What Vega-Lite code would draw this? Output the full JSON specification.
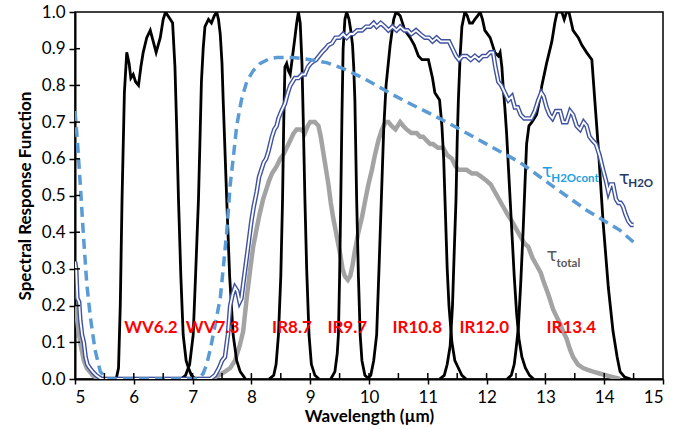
{
  "$schema": "https://vega.github.io/schema/vega-lite/v6.json",
  "width": 588,
  "height": 367,
  "autosize": {"type": "none"},
  "padding": {"left": 75, "top": 12, "right": 23, "bottom": 50},
  "background": "white",
  "config": {
    "view": {"stroke": "#000", "strokeWidth": 1.5},
    "axis": {"grid": false, "domainColor": "#000", "domainWidth": 2, "tickColor": "#000", "tickWidth": 1.5, "labelFont": "Lato", "labelFontSize": 17, "labelColor": "#000", "titleFont": "Lato", "titleFontSize": 17, "titleFontWeight": "bold", "titleColor": "#000"}
  },
  "datasets": {
    "srf": [
      {"ch":"WV6.2","x":5.5,"y":0},{"ch":"WV6.2","x":5.7,"y":0},{"ch":"WV6.2","x":5.74,"y":0.03},{"ch":"WV6.2","x":5.77,"y":0.2},{"ch":"WV6.2","x":5.8,"y":0.49},{"ch":"WV6.2","x":5.84,"y":0.78},{"ch":"WV6.2","x":5.88,"y":0.89},{"ch":"WV6.2","x":5.92,"y":0.86},{"ch":"WV6.2","x":5.95,"y":0.82},{"ch":"WV6.2","x":5.99,"y":0.83},{"ch":"WV6.2","x":6.03,"y":0.81},{"ch":"WV6.2","x":6.08,"y":0.8},{"ch":"WV6.2","x":6.12,"y":0.85},{"ch":"WV6.2","x":6.16,"y":0.89},{"ch":"WV6.2","x":6.22,"y":0.93},{"ch":"WV6.2","x":6.28,"y":0.95},{"ch":"WV6.2","x":6.33,"y":0.92},{"ch":"WV6.2","x":6.38,"y":0.89},{"ch":"WV6.2","x":6.45,"y":0.93},{"ch":"WV6.2","x":6.5,"y":0.98},{"ch":"WV6.2","x":6.54,"y":1.0},{"ch":"WV6.2","x":6.58,"y":0.99},{"ch":"WV6.2","x":6.62,"y":0.98},{"ch":"WV6.2","x":6.66,"y":0.97},{"ch":"WV6.2","x":6.7,"y":0.85},{"ch":"WV6.2","x":6.73,"y":0.68},{"ch":"WV6.2","x":6.76,"y":0.49},{"ch":"WV6.2","x":6.8,"y":0.28},{"ch":"WV6.2","x":6.84,"y":0.12},{"ch":"WV6.2","x":6.89,"y":0.05},{"ch":"WV6.2","x":6.93,"y":0.03},{"ch":"WV6.2","x":6.98,"y":0.01},{"ch":"WV6.2","x":7.05,"y":0},
      {"ch":"WV7.3","x":6.8,"y":0},{"ch":"WV7.3","x":6.88,"y":0.01},{"ch":"WV7.3","x":6.95,"y":0.04},{"ch":"WV7.3","x":7.01,"y":0.12},{"ch":"WV7.3","x":7.05,"y":0.28},{"ch":"WV7.3","x":7.1,"y":0.49},{"ch":"WV7.3","x":7.13,"y":0.68},{"ch":"WV7.3","x":7.15,"y":0.81},{"ch":"WV7.3","x":7.18,"y":0.9},{"ch":"WV7.3","x":7.21,"y":0.96},{"ch":"WV7.3","x":7.27,"y":0.98},{"ch":"WV7.3","x":7.32,"y":0.97},{"ch":"WV7.3","x":7.37,"y":0.99},{"ch":"WV7.3","x":7.41,"y":1.0},{"ch":"WV7.3","x":7.44,"y":0.98},{"ch":"WV7.3","x":7.47,"y":0.94},{"ch":"WV7.3","x":7.5,"y":0.86},{"ch":"WV7.3","x":7.52,"y":0.76},{"ch":"WV7.3","x":7.58,"y":0.49},{"ch":"WV7.3","x":7.63,"y":0.28},{"ch":"WV7.3","x":7.69,"y":0.12},{"ch":"WV7.3","x":7.75,"y":0.05},{"ch":"WV7.3","x":7.81,"y":0.02},{"ch":"WV7.3","x":7.9,"y":0},
      {"ch":"IR8.7","x":8.3,"y":0},{"ch":"IR8.7","x":8.38,"y":0.01},{"ch":"IR8.7","x":8.42,"y":0.04},{"ch":"IR8.7","x":8.46,"y":0.12},{"ch":"IR8.7","x":8.5,"y":0.28},{"ch":"IR8.7","x":8.53,"y":0.49},{"ch":"IR8.7","x":8.55,"y":0.7},{"ch":"IR8.7","x":8.57,"y":0.85},{"ch":"IR8.7","x":8.6,"y":0.86},{"ch":"IR8.7","x":8.63,"y":0.84},{"ch":"IR8.7","x":8.66,"y":0.83},{"ch":"IR8.7","x":8.7,"y":0.88},{"ch":"IR8.7","x":8.74,"y":0.93},{"ch":"IR8.7","x":8.77,"y":0.97},{"ch":"IR8.7","x":8.8,"y":1.0},{"ch":"IR8.7","x":8.83,"y":0.97},{"ch":"IR8.7","x":8.86,"y":0.86},{"ch":"IR8.7","x":8.88,"y":0.72},{"ch":"IR8.7","x":8.91,"y":0.49},{"ch":"IR8.7","x":8.94,"y":0.3},{"ch":"IR8.7","x":8.98,"y":0.12},{"ch":"IR8.7","x":9.02,"y":0.04},{"ch":"IR8.7","x":9.08,"y":0.01},{"ch":"IR8.7","x":9.15,"y":0},
      {"ch":"IR9.7","x":9.35,"y":0},{"ch":"IR9.7","x":9.42,"y":0.02},{"ch":"IR9.7","x":9.46,"y":0.07},{"ch":"IR9.7","x":9.48,"y":0.12},{"ch":"IR9.7","x":9.5,"y":0.28},{"ch":"IR9.7","x":9.52,"y":0.49},{"ch":"IR9.7","x":9.54,"y":0.72},{"ch":"IR9.7","x":9.56,"y":0.9},{"ch":"IR9.7","x":9.59,"y":0.98},{"ch":"IR9.7","x":9.62,"y":1.0},{"ch":"IR9.7","x":9.66,"y":0.98},{"ch":"IR9.7","x":9.69,"y":0.95},{"ch":"IR9.7","x":9.72,"y":0.91},{"ch":"IR9.7","x":9.74,"y":0.85},{"ch":"IR9.7","x":9.76,"y":0.76},{"ch":"IR9.7","x":9.79,"y":0.49},{"ch":"IR9.7","x":9.82,"y":0.28},{"ch":"IR9.7","x":9.85,"y":0.12},{"ch":"IR9.7","x":9.88,"y":0.05},{"ch":"IR9.7","x":9.93,"y":0.01},{"ch":"IR9.7","x":10.0,"y":0},
      {"ch":"IR10.8","x":9.97,"y":0},{"ch":"IR10.8","x":10.03,"y":0.01},{"ch":"IR10.8","x":10.08,"y":0.05},{"ch":"IR10.8","x":10.13,"y":0.12},{"ch":"IR10.8","x":10.17,"y":0.3},{"ch":"IR10.8","x":10.21,"y":0.49},{"ch":"IR10.8","x":10.25,"y":0.68},{"ch":"IR10.8","x":10.29,"y":0.8},{"ch":"IR10.8","x":10.36,"y":0.91},{"ch":"IR10.8","x":10.42,"y":0.98},{"ch":"IR10.8","x":10.46,"y":1.0},{"ch":"IR10.8","x":10.53,"y":0.99},{"ch":"IR10.8","x":10.61,"y":0.95},{"ch":"IR10.8","x":10.7,"y":0.93},{"ch":"IR10.8","x":10.77,"y":0.91},{"ch":"IR10.8","x":10.84,"y":0.88},{"ch":"IR10.8","x":10.9,"y":0.87},{"ch":"IR10.8","x":11.01,"y":0.87},{"ch":"IR10.8","x":11.08,"y":0.82},{"ch":"IR10.8","x":11.12,"y":0.78},{"ch":"IR10.8","x":11.2,"y":0.76},{"ch":"IR10.8","x":11.24,"y":0.69},{"ch":"IR10.8","x":11.27,"y":0.6},{"ch":"IR10.8","x":11.3,"y":0.45},{"ch":"IR10.8","x":11.33,"y":0.3},{"ch":"IR10.8","x":11.36,"y":0.2},{"ch":"IR10.8","x":11.41,"y":0.1},{"ch":"IR10.8","x":11.46,"y":0.05},{"ch":"IR10.8","x":11.52,"y":0.03},{"ch":"IR10.8","x":11.58,"y":0.01},{"ch":"IR10.8","x":11.65,"y":0},
      {"ch":"IR12.0","x":11.2,"y":0},{"ch":"IR12.0","x":11.28,"y":0.01},{"ch":"IR12.0","x":11.33,"y":0.04},{"ch":"IR12.0","x":11.38,"y":0.09},{"ch":"IR12.0","x":11.42,"y":0.2},{"ch":"IR12.0","x":11.45,"y":0.35},{"ch":"IR12.0","x":11.48,"y":0.49},{"ch":"IR12.0","x":11.5,"y":0.65},{"ch":"IR12.0","x":11.52,"y":0.76},{"ch":"IR12.0","x":11.55,"y":0.88},{"ch":"IR12.0","x":11.58,"y":0.96},{"ch":"IR12.0","x":11.63,"y":1.0},{"ch":"IR12.0","x":11.67,"y":0.99},{"ch":"IR12.0","x":11.71,"y":0.97},{"ch":"IR12.0","x":11.76,"y":0.97},{"ch":"IR12.0","x":11.8,"y":0.98},{"ch":"IR12.0","x":11.85,"y":0.99},{"ch":"IR12.0","x":11.89,"y":1.0},{"ch":"IR12.0","x":11.93,"y":0.98},{"ch":"IR12.0","x":11.97,"y":0.95},{"ch":"IR12.0","x":12.06,"y":0.93},{"ch":"IR12.0","x":12.14,"y":0.89},{"ch":"IR12.0","x":12.2,"y":0.88},{"ch":"IR12.0","x":12.23,"y":0.89},{"ch":"IR12.0","x":12.26,"y":0.85},{"ch":"IR12.0","x":12.28,"y":0.8},{"ch":"IR12.0","x":12.31,"y":0.74},{"ch":"IR12.0","x":12.34,"y":0.67},{"ch":"IR12.0","x":12.38,"y":0.55},{"ch":"IR12.0","x":12.43,"y":0.4},{"ch":"IR12.0","x":12.47,"y":0.28},{"ch":"IR12.0","x":12.51,"y":0.18},{"ch":"IR12.0","x":12.55,"y":0.11},{"ch":"IR12.0","x":12.6,"y":0.06},{"ch":"IR12.0","x":12.66,"y":0.03},{"ch":"IR12.0","x":12.73,"y":0.01},{"ch":"IR12.0","x":12.8,"y":0},
      {"ch":"IR13.4","x":12.35,"y":0},{"ch":"IR13.4","x":12.42,"y":0.01},{"ch":"IR13.4","x":12.47,"y":0.04},{"ch":"IR13.4","x":12.5,"y":0.08},{"ch":"IR13.4","x":12.54,"y":0.14},{"ch":"IR13.4","x":12.58,"y":0.26},{"ch":"IR13.4","x":12.62,"y":0.4},{"ch":"IR13.4","x":12.65,"y":0.52},{"ch":"IR13.4","x":12.68,"y":0.64},{"ch":"IR13.4","x":12.72,"y":0.69},{"ch":"IR13.4","x":12.77,"y":0.7},{"ch":"IR13.4","x":12.85,"y":0.72},{"ch":"IR13.4","x":12.9,"y":0.76},{"ch":"IR13.4","x":12.94,"y":0.8},{"ch":"IR13.4","x":13.02,"y":0.86},{"ch":"IR13.4","x":13.11,"y":0.92},{"ch":"IR13.4","x":13.16,"y":0.97},{"ch":"IR13.4","x":13.2,"y":1.0},{"ch":"IR13.4","x":13.28,"y":1.0},{"ch":"IR13.4","x":13.32,"y":0.98},{"ch":"IR13.4","x":13.36,"y":1.0},{"ch":"IR13.4","x":13.4,"y":1.0},{"ch":"IR13.4","x":13.47,"y":0.95},{"ch":"IR13.4","x":13.56,"y":0.93},{"ch":"IR13.4","x":13.62,"y":0.91},{"ch":"IR13.4","x":13.7,"y":0.89},{"ch":"IR13.4","x":13.79,"y":0.87},{"ch":"IR13.4","x":13.84,"y":0.76},{"ch":"IR13.4","x":13.9,"y":0.63},{"ch":"IR13.4","x":13.98,"y":0.43},{"ch":"IR13.4","x":14.07,"y":0.25},{"ch":"IR13.4","x":14.15,"y":0.13},{"ch":"IR13.4","x":14.22,"y":0.06},{"ch":"IR13.4","x":14.27,"y":0.02},{"ch":"IR13.4","x":14.35,"y":0.005},{"ch":"IR13.4","x":14.45,"y":0}
    ],
    "total": [
      {"x":5.0,"y":0.2},{"x":5.03,"y":0.17},{"x":5.06,"y":0.13},{"x":5.1,"y":0.09},{"x":5.15,"y":0.05},{"x":5.2,"y":0.03},{"x":5.3,"y":0.01},{"x":5.4,"y":0},{"x":7.3,"y":0},{"x":7.45,"y":0.01},{"x":7.55,"y":0.02},{"x":7.64,"y":0.03},{"x":7.72,"y":0.05},{"x":7.8,"y":0.09},{"x":7.86,"y":0.13},{"x":7.92,"y":0.22},{"x":7.98,"y":0.3},{"x":8.03,"y":0.36},{"x":8.09,"y":0.41},{"x":8.14,"y":0.45},{"x":8.2,"y":0.49},{"x":8.26,"y":0.52},{"x":8.3,"y":0.54},{"x":8.35,"y":0.56},{"x":8.43,"y":0.58},{"x":8.49,"y":0.6},{"x":8.54,"y":0.61},{"x":8.6,"y":0.63},{"x":8.66,"y":0.65},{"x":8.72,"y":0.67},{"x":8.77,"y":0.68},{"x":8.84,"y":0.68},{"x":8.91,"y":0.67},{"x":8.96,"y":0.69},{"x":9.0,"y":0.7},{"x":9.08,"y":0.7},{"x":9.14,"y":0.69},{"x":9.18,"y":0.66},{"x":9.22,"y":0.62},{"x":9.27,"y":0.57},{"x":9.31,"y":0.53},{"x":9.35,"y":0.48},{"x":9.39,"y":0.44},{"x":9.45,"y":0.39},{"x":9.51,"y":0.34},{"x":9.55,"y":0.3},{"x":9.59,"y":0.28},{"x":9.64,"y":0.27},{"x":9.68,"y":0.28},{"x":9.72,"y":0.31},{"x":9.76,"y":0.35},{"x":9.82,"y":0.4},{"x":9.88,"y":0.44},{"x":9.94,"y":0.49},{"x":9.99,"y":0.53},{"x":10.05,"y":0.57},{"x":10.1,"y":0.61},{"x":10.16,"y":0.65},{"x":10.22,"y":0.68},{"x":10.28,"y":0.7},{"x":10.33,"y":0.7},{"x":10.38,"y":0.69},{"x":10.45,"y":0.68},{"x":10.53,"y":0.7},{"x":10.58,"y":0.69},{"x":10.64,"y":0.68},{"x":10.72,"y":0.67},{"x":10.81,"y":0.67},{"x":10.87,"y":0.66},{"x":10.92,"y":0.66},{"x":10.98,"y":0.65},{"x":11.04,"y":0.64},{"x":11.09,"y":0.64},{"x":11.17,"y":0.63},{"x":11.26,"y":0.63},{"x":11.33,"y":0.61},{"x":11.41,"y":0.6},{"x":11.47,"y":0.58},{"x":11.52,"y":0.57},{"x":11.6,"y":0.57},{"x":11.66,"y":0.57},{"x":11.75,"y":0.56},{"x":11.83,"y":0.56},{"x":11.92,"y":0.55},{"x":12.0,"y":0.54},{"x":12.07,"y":0.53},{"x":12.14,"y":0.51},{"x":12.21,"y":0.49},{"x":12.28,"y":0.47},{"x":12.35,"y":0.45},{"x":12.43,"y":0.43},{"x":12.5,"y":0.41},{"x":12.57,"y":0.39},{"x":12.64,"y":0.37},{"x":12.71,"y":0.36},{"x":12.78,"y":0.33},{"x":12.85,"y":0.31},{"x":12.92,"y":0.29},{"x":12.96,"y":0.27},{"x":13.05,"y":0.23},{"x":13.13,"y":0.19},{"x":13.19,"y":0.17},{"x":13.25,"y":0.15},{"x":13.3,"y":0.13},{"x":13.36,"y":0.11},{"x":13.42,"y":0.08},{"x":13.47,"y":0.06},{"x":13.55,"y":0.04},{"x":13.64,"y":0.03},{"x":13.72,"y":0.025},{"x":13.81,"y":0.02},{"x":13.92,"y":0.015},{"x":14.04,"y":0.01},{"x":14.15,"y":0.005},{"x":14.27,"y":0}
    ],
    "h2o": [
      {"x":5.0,"y":0.32},{"x":5.02,"y":0.3},{"x":5.04,"y":0.22},{"x":5.07,"y":0.21},{"x":5.09,"y":0.16},{"x":5.12,"y":0.12},{"x":5.15,"y":0.1},{"x":5.18,"y":0.06},{"x":5.21,"y":0.04},{"x":5.25,"y":0.03},{"x":5.3,"y":0.02},{"x":5.36,"y":0.01},{"x":5.45,"y":0},{"x":7.3,"y":0},{"x":7.38,"y":0.01},{"x":7.45,"y":0.03},{"x":7.5,"y":0.05},{"x":7.55,"y":0.06},{"x":7.6,"y":0.12},{"x":7.64,"y":0.2},{"x":7.68,"y":0.23},{"x":7.72,"y":0.25},{"x":7.76,"y":0.24},{"x":7.8,"y":0.21},{"x":7.83,"y":0.22},{"x":7.87,"y":0.27},{"x":7.92,"y":0.33},{"x":7.96,"y":0.38},{"x":8.0,"y":0.43},{"x":8.04,"y":0.47},{"x":8.09,"y":0.51},{"x":8.13,"y":0.55},{"x":8.17,"y":0.57},{"x":8.21,"y":0.59},{"x":8.25,"y":0.6},{"x":8.29,"y":0.62},{"x":8.32,"y":0.64},{"x":8.35,"y":0.66},{"x":8.39,"y":0.68},{"x":8.43,"y":0.69},{"x":8.46,"y":0.71},{"x":8.51,"y":0.73},{"x":8.57,"y":0.75},{"x":8.62,"y":0.78},{"x":8.66,"y":0.8},{"x":8.7,"y":0.81},{"x":8.74,"y":0.82},{"x":8.8,"y":0.82},{"x":8.86,"y":0.83},{"x":8.91,"y":0.83},{"x":8.96,"y":0.85},{"x":9.01,"y":0.86},{"x":9.05,"y":0.865},{"x":9.1,"y":0.87},{"x":9.15,"y":0.88},{"x":9.2,"y":0.89},{"x":9.26,"y":0.9},{"x":9.31,"y":0.91},{"x":9.37,"y":0.915},{"x":9.43,"y":0.93},{"x":9.5,"y":0.93},{"x":9.56,"y":0.94},{"x":9.62,"y":0.93},{"x":9.68,"y":0.94},{"x":9.73,"y":0.94},{"x":9.8,"y":0.95},{"x":9.88,"y":0.95},{"x":9.95,"y":0.96},{"x":10.02,"y":0.96},{"x":10.08,"y":0.97},{"x":10.13,"y":0.96},{"x":10.2,"y":0.97},{"x":10.27,"y":0.96},{"x":10.33,"y":0.95},{"x":10.4,"y":0.96},{"x":10.47,"y":0.95},{"x":10.53,"y":0.96},{"x":10.6,"y":0.95},{"x":10.66,"y":0.95},{"x":10.72,"y":0.94},{"x":10.8,"y":0.95},{"x":10.87,"y":0.94},{"x":10.95,"y":0.93},{"x":11.02,"y":0.93},{"x":11.08,"y":0.92},{"x":11.15,"y":0.93},{"x":11.22,"y":0.92},{"x":11.3,"y":0.92},{"x":11.36,"y":0.92},{"x":11.42,"y":0.9},{"x":11.48,"y":0.88},{"x":11.53,"y":0.87},{"x":11.59,"y":0.88},{"x":11.66,"y":0.88},{"x":11.73,"y":0.87},{"x":11.8,"y":0.88},{"x":11.87,"y":0.87},{"x":11.93,"y":0.88},{"x":12.0,"y":0.88},{"x":12.06,"y":0.89},{"x":12.11,"y":0.89},{"x":12.15,"y":0.85},{"x":12.2,"y":0.81},{"x":12.25,"y":0.8},{"x":12.31,"y":0.78},{"x":12.37,"y":0.76},{"x":12.43,"y":0.77},{"x":12.48,"y":0.74},{"x":12.53,"y":0.74},{"x":12.58,"y":0.72},{"x":12.64,"y":0.71},{"x":12.7,"y":0.71},{"x":12.76,"y":0.71},{"x":12.82,"y":0.73},{"x":12.88,"y":0.76},{"x":12.93,"y":0.78},{"x":12.97,"y":0.77},{"x":13.02,"y":0.74},{"x":13.07,"y":0.72},{"x":13.12,"y":0.71},{"x":13.18,"y":0.73},{"x":13.25,"y":0.73},{"x":13.3,"y":0.7},{"x":13.36,"y":0.7},{"x":13.42,"y":0.73},{"x":13.47,"y":0.72},{"x":13.53,"y":0.69},{"x":13.59,"y":0.68},{"x":13.65,"y":0.7},{"x":13.7,"y":0.69},{"x":13.75,"y":0.66},{"x":13.8,"y":0.65},{"x":13.86,"y":0.64},{"x":13.92,"y":0.61},{"x":13.98,"y":0.57},{"x":14.03,"y":0.54},{"x":14.07,"y":0.51},{"x":14.11,"y":0.53},{"x":14.15,"y":0.53},{"x":14.2,"y":0.49},{"x":14.24,"y":0.48},{"x":14.28,"y":0.48},{"x":14.32,"y":0.47},{"x":14.36,"y":0.45},{"x":14.41,"y":0.43},{"x":14.46,"y":0.42},{"x":14.5,"y":0.42}
    ],
    "cont": [
      {"x":5.0,"y":0.73},{"x":5.04,"y":0.65},{"x":5.09,"y":0.53},{"x":5.14,"y":0.4},{"x":5.2,"y":0.26},{"x":5.26,"y":0.17},{"x":5.34,"y":0.08},{"x":5.43,"y":0.02},{"x":5.55,"y":0},{"x":7.1,"y":0},{"x":7.18,"y":0.015},{"x":7.24,"y":0.04},{"x":7.3,"y":0.08},{"x":7.35,"y":0.12},{"x":7.41,"y":0.17},{"x":7.47,"y":0.22},{"x":7.52,"y":0.3},{"x":7.58,"y":0.4},{"x":7.64,"y":0.53},{"x":7.69,"y":0.6},{"x":7.75,"y":0.69},{"x":7.83,"y":0.76},{"x":7.92,"y":0.81},{"x":8.03,"y":0.84},{"x":8.15,"y":0.86},{"x":8.3,"y":0.872},{"x":8.43,"y":0.876},{"x":8.71,"y":0.876},{"x":9.0,"y":0.87},{"x":9.28,"y":0.862},{"x":9.56,"y":0.846},{"x":9.85,"y":0.824},{"x":10.13,"y":0.8},{"x":10.41,"y":0.774},{"x":10.7,"y":0.75},{"x":10.98,"y":0.728},{"x":11.26,"y":0.705},{"x":11.55,"y":0.68},{"x":12.0,"y":0.64},{"x":12.57,"y":0.59},{"x":13.13,"y":0.525},{"x":13.7,"y":0.46},{"x":14.27,"y":0.405},{"x":14.52,"y":0.37}
    ],
    "chlabels": [
      {"label":"WV6.2","x":6.29,"y":0.138},{"label":"WV7.3","x":7.34,"y":0.138},{"label":"IR8.7","x":8.69,"y":0.138},{"label":"IR9.7","x":9.63,"y":0.138},{"label":"IR10.8","x":10.82,"y":0.138},{"label":"IR12.0","x":11.96,"y":0.138},{"label":"IR13.4","x":13.44,"y":0.138}
    ],
    "tau": [
      {"s":"cont","t":"τ","x":13.03,"y":0.565},{"s":"h2o","t":"τ","x":14.34,"y":0.545},{"s":"total","t":"τ","x":13.11,"y":0.335}
    ],
    "sub": [
      {"s":"cont","t":"H2Ocont","x":13.1,"y":0.545},{"s":"h2o","t":"H2O","x":14.41,"y":0.53},{"s":"total","t":"total","x":13.19,"y":0.313}
    ],
    "xminor": [
      {"x":5.5,"y":0},{"x":6,"y":0},{"x":6.5,"y":0},{"x":7,"y":0},{"x":7.5,"y":0},{"x":8,"y":0},{"x":8.5,"y":0},{"x":9,"y":0},{"x":9.5,"y":0},{"x":10,"y":0},{"x":10.5,"y":0},{"x":11,"y":0},{"x":11.5,"y":0},{"x":12,"y":0},{"x":12.5,"y":0},{"x":13,"y":0},{"x":13.5,"y":0},{"x":14,"y":0},{"x":14.5,"y":0}
    ],
    "yminor": [
      {"x":5,"y":0.1},{"x":5,"y":0.2},{"x":5,"y":0.3},{"x":5,"y":0.4},{"x":5,"y":0.5},{"x":5,"y":0.6},{"x":5,"y":0.7},{"x":5,"y":0.8},{"x":5,"y":0.9}
    ]
  },
  "encoding": {
    "x": {"field": "x", "type": "quantitative", "scale": {"domain": [5, 15], "nice": false, "zero": false},
      "axis": {"title": "Wavelength (µm)", "values": [5,6,7,8,9,10,11,12,13,14,15], "format": "d", "tickSize": 5, "labelPadding": 5, "titlePadding": 3}},
    "y": {"field": "y", "type": "quantitative", "scale": {"domain": [0, 1], "nice": false},
      "axis": {"title": "Spectral Response Function", "values": [0,0.1,0.2,0.3,0.4,0.5,0.6,0.7,0.8,0.9,1.0], "format": ".1f", "tickSize": 6, "labelPadding": 4, "titlePadding": 7}}
  },
  "layer": [
    {"data": {"name": "total"}, "mark": {"type": "line", "color": "#a3a3a3", "strokeWidth": 4.5, "clip": true}},
    {"data": {"name": "srf"}, "mark": {"type": "line", "color": "#000", "strokeWidth": 2.8, "clip": true}, "encoding": {"detail": {"field": "ch"}}},
    {"data": {"name": "h2o"}, "mark": {"type": "line", "color": "#3f52a0", "strokeWidth": 4.6, "clip": true}},
    {"data": {"name": "h2o"}, "mark": {"type": "line", "color": "#ffffff", "strokeWidth": 1.8, "clip": true}},
    {"data": {"name": "cont"}, "mark": {"type": "line", "color": "#5b9bd5", "strokeWidth": 3.5, "strokeDash": [10, 6], "clip": true}},
    {"data": {"name": "xminor"}, "mark": {"type": "tick", "orient": "vertical", "size": 6, "thickness": 1.5, "color": "#000", "opacity": 1, "yOffset": -3}},
    {"data": {"name": "yminor"}, "mark": {"type": "tick", "orient": "horizontal", "size": 5, "thickness": 1.5, "color": "#000", "opacity": 1, "xOffset": 2.5}},
    {"data": {"name": "chlabels"}, "mark": {"type": "text", "color": "#ff0000", "font": "Lato", "fontWeight": "bold", "fontSize": 17, "align": "center", "baseline": "middle"}, "encoding": {"text": {"field": "label"}}},
    {"data": {"name": "tau"}, "mark": {"type": "text", "font": "DejaVu Sans", "fontSize": 18, "align": "center", "baseline": "middle"},
      "encoding": {"text": {"field": "t"}, "color": {"field": "s", "type": "nominal", "scale": {"domain": ["cont", "h2o", "total"], "range": ["#1ba1e2", "#1f3864", "#595959"]}, "legend": null}}},
    {"data": {"name": "sub"}, "mark": {"type": "text", "font": "Lato", "fontWeight": "bold", "fontSize": 11.5, "align": "left", "baseline": "middle"},
      "encoding": {"text": {"field": "t"}, "color": {"field": "s", "type": "nominal", "scale": {"domain": ["cont", "h2o", "total"], "range": ["#1ba1e2", "#1f3864", "#595959"]}, "legend": null}}}
  ]
}
